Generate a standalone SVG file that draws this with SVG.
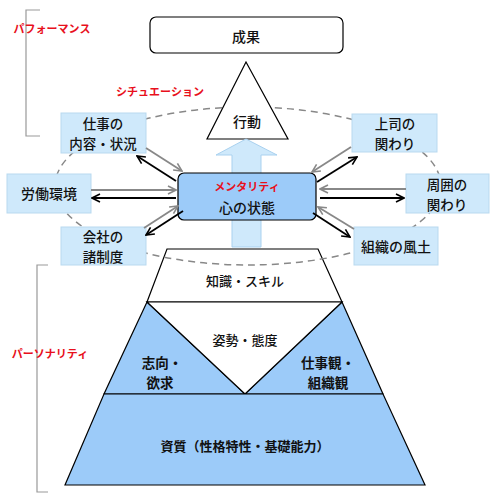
<svg xmlns="http://www.w3.org/2000/svg" width="500" height="494" viewBox="0 0 500 494">
<defs>
<style>
text{font-family:"Noto Sans CJK JP","Noto Sans",sans-serif;fill:#111;text-anchor:middle;dominant-baseline:central;font-weight:500}
.red{fill:#e8101c;font-weight:bold;font-size:11px}
.box{fill:#cfe9fb;stroke:#b9d9ef;stroke-width:1}
.t14{font-size:14px}
.t135{font-size:13.5px}
.t13{font-size:13px}
.b{font-weight:bold}
.bracket{fill:none;stroke:#999;stroke-width:1.2}
.ga{stroke:#888;stroke-width:1.8;fill:none;marker-end:url(#mg)}
.ka{stroke:#000;stroke-width:1.8;fill:none;marker-end:url(#mk)}
.pyr{stroke:#000;stroke-width:1.2}
</style>
<marker id="mg" viewBox="0 0 10 10" refX="9" refY="5" markerWidth="10" markerHeight="10" markerUnits="userSpaceOnUse" orient="auto">
<path d="M1,1 L9,5 L1,9" fill="none" stroke="#888" stroke-width="1.6"/>
</marker>
<marker id="mk" viewBox="0 0 10 10" refX="9" refY="5" markerWidth="10" markerHeight="10" markerUnits="userSpaceOnUse" orient="auto">
<path d="M1,1 L9,5 L1,9" fill="none" stroke="#000" stroke-width="1.6"/>
</marker>
</defs>
<rect width="500" height="494" fill="#fff"/>

<!-- brackets and side labels -->
<g id="performance">
<path class="bracket" d="M40,10 L26,10 L26,136 L40,136"/>
<text class="red" x="52" y="28">パフォーマンス</text>
</g>
<g id="personality">
<path class="bracket" d="M48,265 L37,265 L37,492 L48,492"/>
<text class="red" x="50" y="353">パーソナリティ</text>
</g>
<text class="red" x="160" y="91">シチュエーション</text>

<!-- pyramid -->
<g id="pyramid">
<polygon class="pyr" points="167,249 318,249 342,302 147,302" fill="#fff"/>
<polygon class="pyr" points="147,302 245,394 104,394" fill="#9ccbf9"/>
<polygon class="pyr" points="342,302 383,394 245,394" fill="#9ccbf9"/>
<polygon class="pyr" points="147,302 342,302 245,394" fill="#fff"/>
<polygon class="pyr" points="104,394 383,394 425,485 65,485" fill="#9ccbf9"/>
<text class="t13" x="245" y="280">知識・スキル</text>
<text class="t13" x="245" y="339">姿勢・態度</text>
<text class="t135 b" x="162" y="362">志向・</text>
<text class="t135 b" x="160" y="382">欲求</text>
<text class="t135 b" x="328" y="362">仕事観・</text>
<text class="t135 b" x="328" y="382">組織観</text>
<text class="t13 b" x="245" y="445">資質（性格特性・基礎能力）</text>
</g>

<!-- situation ellipse -->
<ellipse cx="248" cy="186" rx="193" ry="79" fill="none" stroke="#888" stroke-width="1.5" stroke-dasharray="7,5"/>

<!-- action triangle -->
<g id="action">
<polygon points="246,62 288,139 207,139" fill="#fff" stroke="#000" stroke-width="1.2"/>
<text class="t14" x="247" y="121">行動</text>
</g>

<!-- result -->
<g id="result">
<rect x="150" y="17" width="193" height="36" rx="6" fill="#fff" stroke="#000" stroke-width="1.2"/>
<text class="t14" x="246" y="36">成果</text>
</g>

<!-- big up arrow -->
<g id="uparrow">
<polygon points="246,139 277,155 261,155 261,247 232,247 232,155 216,155" fill="#cfe9fb" stroke="#a9d1ef" stroke-width="1"/>
</g>

<!-- situation boxes -->
<g id="job">
<rect class="box" x="61" y="113" width="85" height="40"/>
<text class="t135" x="103" y="123">仕事の</text>
<text class="t135" x="103" y="143">内容・状況</text>
</g>
<g id="environment">
<rect class="box" x="7" y="174" width="84" height="39"/>
<text class="t14" x="49" y="193">労働環境</text>
</g>
<g id="system">
<rect class="box" x="61" y="227" width="85" height="38"/>
<text class="t135" x="103" y="236">会社の</text>
<text class="t135" x="103" y="256">諸制度</text>
</g>
<g id="boss">
<rect class="box" x="352" y="114" width="85" height="38"/>
<text class="t135" x="395" y="123">上司の</text>
<text class="t135" x="395" y="143">関わり</text>
</g>
<g id="surrounding">
<rect class="box" x="406" y="174" width="83" height="39"/>
<text class="t135" x="447" y="184">周囲の</text>
<text class="t135" x="447" y="204">関わり</text>
</g>
<g id="culture">
<rect class="box" x="354" y="227" width="84" height="38"/>
<text class="t14" x="396" y="246">組織の風土</text>
</g>

<!-- mentality -->
<g id="mentality">
<rect x="178" y="173" width="138" height="47" rx="6" fill="#9ccbf9" stroke="#000" stroke-width="1.2"/>
<text class="red" x="247" y="186">メンタリティ</text>
<text class="t14" x="247" y="207">心の状態</text>
</g>

<!-- connectors -->
<g id="connectors">
<line class="ga" x1="146" y1="148" x2="182" y2="171"/>
<line class="ga" x1="91" y1="190" x2="176" y2="190"/>
<line class="ga" x1="144" y1="228" x2="178" y2="206"/>
<line class="ga" x1="351" y1="147" x2="312" y2="172"/>
<line class="ga" x1="406" y1="189" x2="320" y2="189"/>
<line class="ga" x1="354" y1="229" x2="318" y2="207"/>
<line class="ka" x1="176" y1="181" x2="137" y2="156"/>
<line class="ka" x1="176" y1="198" x2="92" y2="198"/>
<line class="ka" x1="183" y1="211" x2="146" y2="235"/>
<line class="ka" x1="317" y1="182" x2="357" y2="157"/>
<line class="ka" x1="320" y1="198" x2="404" y2="198"/>
<line class="ka" x1="313" y1="213" x2="350" y2="237"/>
</g>
</svg>
